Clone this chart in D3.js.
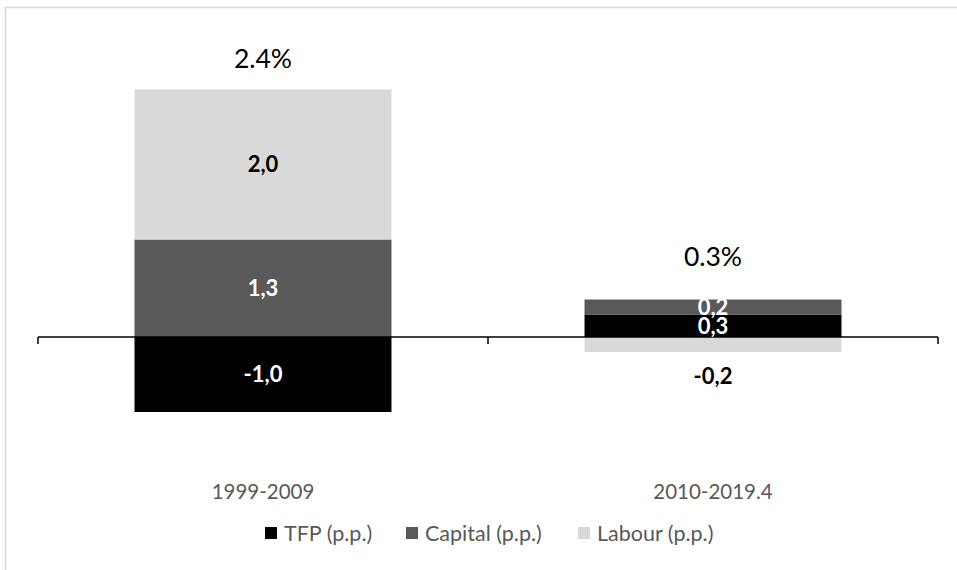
<!DOCTYPE html>
<html>
<head>
<meta charset="utf-8">
<script src="https://cdn.jsdelivr.net/npm/d3@7"></script>
<style>
  html, body { margin: 0; padding: 0; background: #fff; }
  svg { display: block; font-family: Lato, "Open Sans", sans-serif; }
</style>
</head>
<body>
<svg id="chart" width="957" height="570"></svg>
<script>
// Growth decomposition by period (percentage points)
const categories = ["1999-2009", "2010-2019.4"];
const seriesNames = ["TFP (p.p.)", "Capital (p.p.)", "Labour (p.p.)"];
const tfp = [-1.0, 0.3];
const capital = [1.3, 0.2];
const labour = [2.0, -0.2];
const totals = [2.4, 0.3];

const colors = ["#000000", "#595959", "#D9D9D9"];
const labelColors = ["#ffffff", "#ffffff", "#000000"];

const svg = d3.select("#chart");
const W = 957, H = 570;

// outer chart frame
svg.append("rect")
  .attr("x", 5.5).attr("y", 7.5)
  .attr("width", W + 10).attr("height", H + 10)
  .attr("fill", "none").attr("stroke", "#D9D9D9").attr("stroke-width", 1.5);

const rows = categories.map((c, i) => ({
  cat: c,
  [seriesNames[0]]: tfp[i],
  [seriesNames[1]]: capital[i],
  [seriesNames[2]]: labour[i]
}));

const stacked = d3.stack()
  .keys(seriesNames)
  .offset(d3.stackOffsetDiverging)(rows);

const x = d3.scaleBand()
  .domain(categories)
  .range([38, 938])
  .paddingInner(0.429)
  .paddingOuter(0.2145);

const y = d3.scaleLinear()
  .domain([-1.5, 3.5])
  .range([449.5, 74.5]);

const fmt = v => d3.format(".1f")(v).replace(".", ",").replace("−", "-");

// bars
const layers = svg.append("g").selectAll("g")
  .data(stacked)
  .join("g")
  .attr("fill", (d, i) => colors[i]);

layers.selectAll("rect")
  .data(d => d)
  .join("rect")
  .attr("x", d => x(d.data.cat))
  .attr("width", x.bandwidth())
  .attr("y", d => y(Math.max(d[0], d[1])))
  .attr("height", d => Math.abs(y(d[0]) - y(d[1])));

// zero axis with tick marks at category boundaries
const axisY = y(0);
const step = x.step();
const x0 = x.range()[0];
const boundaries = d3.range(categories.length + 1).map(i => x0 + i * step);
const axis = svg.append("g").attr("stroke", "#000").attr("stroke-width", 1.5);
axis.append("line")
  .attr("x1", x0).attr("x2", x.range()[1])
  .attr("y1", axisY).attr("y2", axisY);
axis.selectAll("line.tick")
  .data(boundaries)
  .join("line")
  .attr("class", "tick")
  .attr("x1", d => d).attr("x2", d => d)
  .attr("y1", axisY).attr("y2", axisY + 7);

// segment value labels
stacked.forEach((layer, si) => {
  const outside = d => {
    const top = y(Math.max(d[0], d[1]));
    const bot = y(Math.min(d[0], d[1]));
    return d.data[layer.key] < 0 && bot - top < 20;
  };
  svg.append("g").selectAll("text")
    .data(layer)
    .join("text")
    .attr("x", d => x(d.data.cat) + x.bandwidth() / 2)
    .attr("y", d => {
      const top = y(Math.max(d[0], d[1]));
      const bot = y(Math.min(d[0], d[1]));
      return outside(d) ? bot + 24 : (top + bot) / 2;
    })
    .attr("dy", "0.36em")
    .attr("text-anchor", "middle")
    .attr("font-weight", "bold")
    .attr("font-size", 22)
    .attr("fill", d => outside(d) ? "#000000" : labelColors[si])
    .text(d => fmt(d.data[layer.key]));
});

// total labels above each stack
const topOf = categories.map((c, i) =>
  y(d3.max(stacked, layer => Math.max(layer[i][0], layer[i][1]))));
const totalGap = [22, 34];
svg.append("g").selectAll("text")
  .data(totals)
  .join("text")
  .attr("x", (d, i) => x(categories[i]) + x.bandwidth() / 2)
  .attr("y", (d, i) => topOf[i] - totalGap[i])
  .attr("text-anchor", "middle")
  .attr("font-size", 26.5)
  .attr("fill", "#000")
  .text(d => d3.format(".1f")(d) + "%");

// category labels
svg.append("g").selectAll("text")
  .data(categories)
  .join("text")
  .attr("x", d => x(d) + x.bandwidth() / 2)
  .attr("y", 499)
  .attr("text-anchor", "middle")
  .attr("font-size", 20.5)
  .attr("fill", "#595959")
  .text(d => d);

// legend
const legendX = [265, 406, 578];
const legend = svg.append("g").selectAll("g")
  .data(seriesNames)
  .join("g")
  .attr("transform", (d, i) => `translate(${legendX[i]},527)`);
legend.append("rect")
  .attr("width", 12).attr("height", 12)
  .attr("fill", (d, i) => colors[i]);
legend.append("text")
  .attr("x", 19).attr("y", 13.5)
  .attr("font-size", 21.5)
  .attr("fill", "#595959")
  .text(d => d);
</script>
</body>
</html>
